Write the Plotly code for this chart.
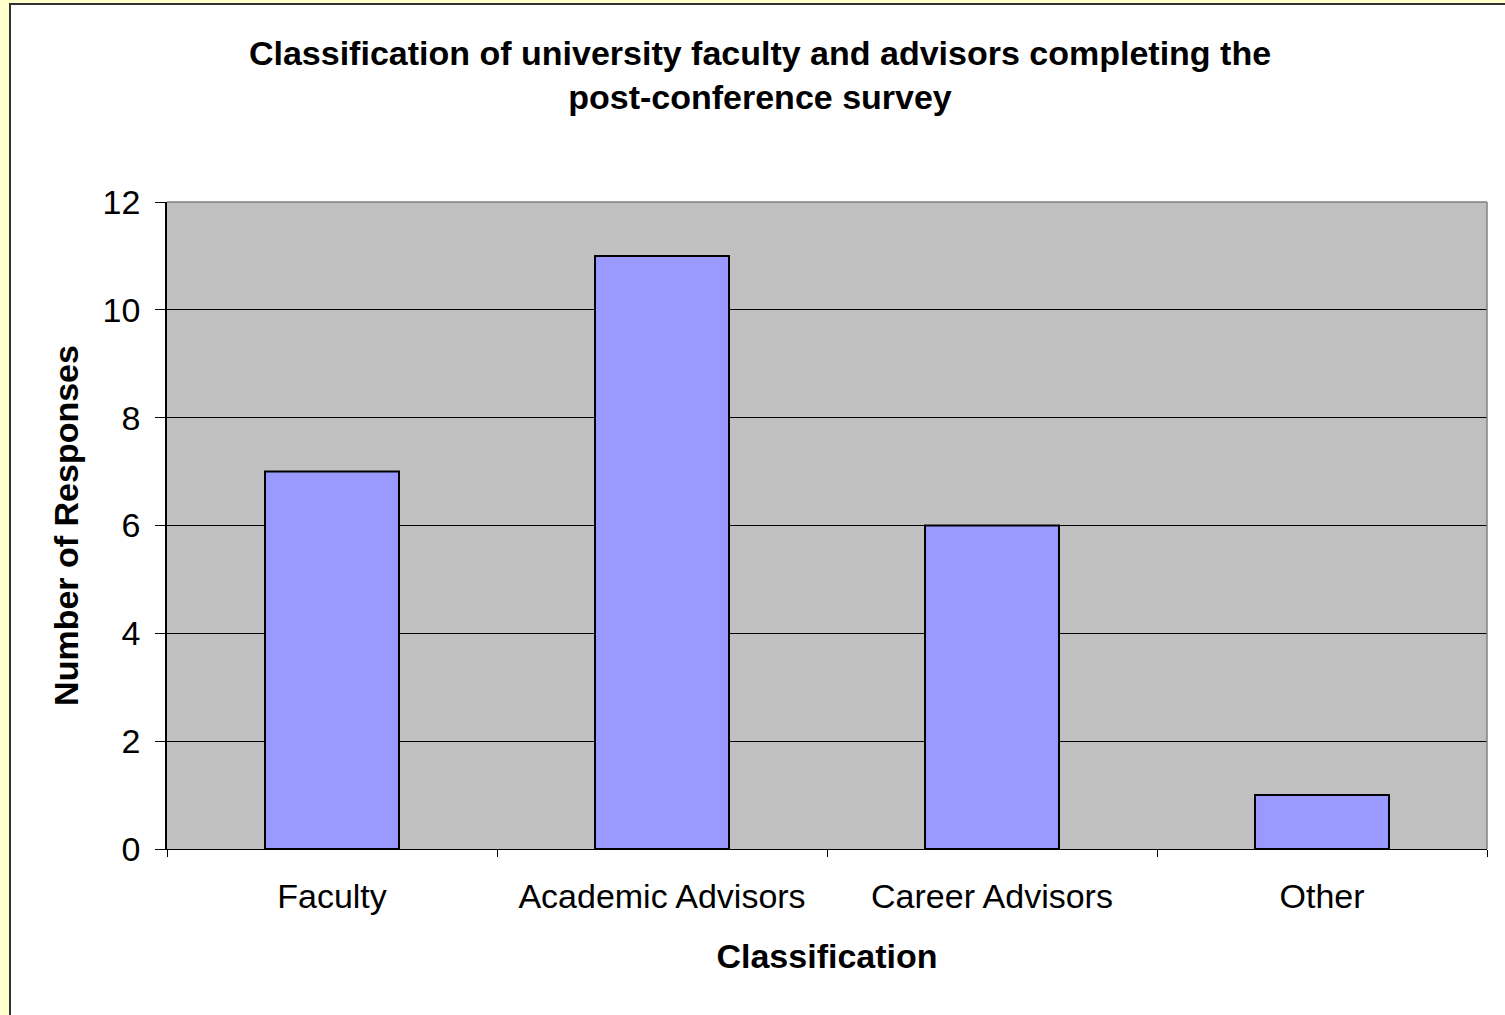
import plotly.graph_objects as go

categories = ["Faculty", "Academic Advisors", "Career Advisors", "Other"]
responses = [7, 11, 6, 1]
y_ticks = [0, 2, 4, 6, 8, 10, 12]

W, H = 1505, 1015
L, R, T, B = 167, 18, 202, 166
pw, ph = W - L - R, H - T - B

def px_x(p):
    return (p - L) / pw

def px_y(p):
    return (H - B - p) / ph

fig = go.Figure()
fig.add_trace(go.Bar(
    x=categories, y=responses,
    marker=dict(color="#9999FF", line=dict(color="black", width=2)),
    hoverinfo="x+y",
))

font_family = "Liberation Sans, Arial, sans-serif"

fig.update_layout(
    width=W, height=H,
    margin=dict(l=L, r=R, t=T, b=B, pad=0),
    paper_bgcolor="#FFFFCC",
    plot_bgcolor="#C0C0C0",
    bargap=0.594,
    showlegend=False,
    font=dict(family=font_family, color="black", size=34),
    title=dict(
        text="<b>Classification of university faculty and advisors completing the<br>post-conference survey</b>",
        x=760 / W, xanchor="center",
        yref="container", y=1 - 65 / H, yanchor="top",
        font=dict(size=34, family=font_family, color="black"),
    ),
    xaxis=dict(
        showline=True, linecolor="black", linewidth=1,
        ticks="outside", ticklen=7, tickcolor="black", tickwidth=1,
        tickson="boundaries",
        tickfont=dict(size=34),
        ticklabelstandoff=17,
        title=dict(text="<b>Classification</b>", font=dict(size=34), standoff=30),
        showgrid=False,
    ),
    yaxis=dict(
        range=[0, 12], tickvals=y_ticks,
        showline=True, linecolor="black", linewidth=1.5,
        ticks="outside", ticklen=10, tickcolor="black", tickwidth=1,
        tickfont=dict(size=34),
        ticklabelstandoff=8,
        showgrid=True, gridcolor="black", gridwidth=1,
        zeroline=False,
        title=dict(text="<b>Number of Responses</b>", font=dict(size=34), standoff=14),
    ),
    shapes=[
        dict(type="rect", xref="paper", yref="paper", layer="below",
             x0=px_x(10), x1=px_x(W + 20), y0=px_y(H + 20), y1=px_y(4),
             fillcolor="white", line=dict(color="#333333", width=2)),
        dict(type="rect", xref="paper", yref="paper", layer="below",
             x0=0, x1=1, y0=0, y1=1,
             fillcolor="#C0C0C0", line=dict(width=0)),
        dict(type="line", xref="paper", yref="paper", layer="above",
             x0=0, x1=1, y0=1, y1=1, line=dict(color="#808080", width=1.5)),
        dict(type="line", xref="paper", yref="paper", layer="above",
             x0=1, x1=1, y0=0, y1=1, line=dict(color="#808080", width=1.5)),
    ],
)

fig.write_html("out.html", config={"displayModeBar": False},
               post_script="document.body.style.margin='0';")
